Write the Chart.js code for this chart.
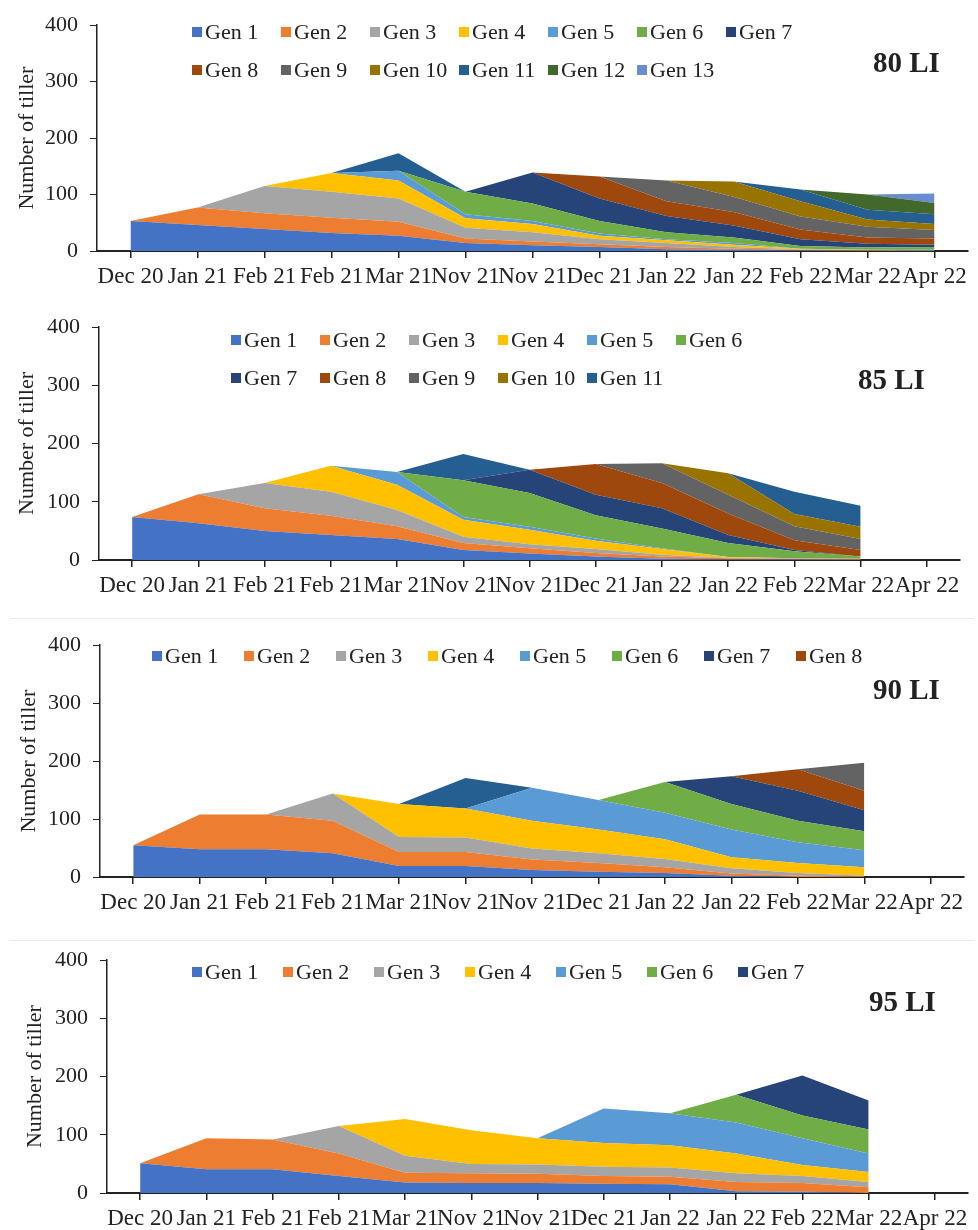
<!DOCTYPE html>
<html>
<head>
<meta charset="utf-8">
<script src="https://cdn.jsdelivr.net/npm/chart.js@4.4.1/dist/chart.umd.min.js"></script>
<style>
  body {
    margin: 0;
    background: #fff;
    width: 978px;
    height: 1230px;
    position: relative;
    overflow: hidden;
    font-family: 'Liberation Serif', 'Times New Roman', serif;
    color: #222;
  }
  canvas { position: absolute; left: 0; }
  .sep { position: absolute; left: 10px; right: 4px; height: 1px; background: #ececec; }
  .legend { position: absolute; display: grid; font-size: 22px; line-height: 1; }
  .legend-item { display: flex; align-items: flex-start; white-space: nowrap; }
  .swatch { width: 10px; height: 10px; margin: 6px 3px 0 0; flex: none; }
  .tag { position: absolute; font-size: 29px; font-weight: bold; line-height: 1; }
</style>
</head>
<body>
<div class="sep" style="top: 618px"></div>
<div class="sep" style="top: 940px"></div>

<script>
const months = ['Dec 20', 'Jan 21', 'Feb 21', 'Feb 21', 'Mar 21', 'Nov 21', 'Nov 21',
  'Dec 21', 'Jan 22', 'Jan 22', 'Feb 22', 'Mar 22', 'Apr 22'];

const genColors = ['#4472C4', '#ED7D31', '#A5A5A5', '#FFC000', '#5B9BD5', '#70AD47',
  '#264478', '#9E480E', '#636363', '#997300', '#255E91', '#43682B', '#698ED0'];

// tillers per generation, one row per Gen
const li80 = [
  [53, 46, 39, 32, 27, 14, 10, 7, 3, 2, 1, 0, 0],
  [0, 31, 28, 27, 25, 8, 7, 5, 4, 2, 1, 1, 0],
  [0, 0, 48, 46, 41, 19, 16, 9, 7, 3, 1, 1, 1],
  [0, 0, 0, 33, 32, 17, 15, 6, 5, 4, 1, 0, 0],
  [0, 0, 0, 0, 17, 7, 5, 4, 2, 3, 0, 0, 1],
  [0, 0, 0, 0, 0, 40, 31, 22, 12, 10, 5, 4, 5],
  [0, 0, 0, 0, 0, 0, 55, 40, 29, 21, 12, 7, 4],
  [0, 0, 0, 0, 0, 0, 0, 39, 26, 24, 17, 11, 11],
  [0, 0, 0, 0, 0, 0, 0, 0, 37, 27, 23, 19, 15],
  [0, 0, 0, 0, 0, 0, 0, 0, 0, 27, 27, 13, 11],
  [0, 0, 0, 0, 31, 0, 0, 0, 0, 0, 21, 17, 17],
  [0, 0, 0, 0, 0, 0, 0, 0, 0, 0, 0, 27, 20],
  [0, 0, 0, 0, 0, 0, 0, 0, 0, 0, 0, 0, 17],
];

const li85 = [
  [74, 63, 50, 43, 36, 17, 11, 6, 2, 1, 1, 0],
  [0, 50, 39, 33, 22, 12, 9, 6, 4, 2, 1, 1],
  [0, 0, 43, 41, 28, 11, 7, 7, 3, 1, 1, 1],
  [0, 0, 0, 45, 43, 29, 25, 14, 10, 1, 0, 0],
  [0, 0, 0, 0, 22, 5, 5, 4, 1, 0, 0, 0],
  [0, 0, 0, 0, 0, 63, 58, 40, 34, 24, 12, 4],
  [0, 0, 0, 0, 0, 0, 40, 35, 35, 14, 2, 0],
  [0, 0, 0, 0, 0, 0, 0, 53, 43, 37, 17, 11],
  [0, 0, 0, 0, 0, 0, 0, 0, 34, 32, 24, 19],
  [0, 0, 0, 0, 0, 0, 0, 0, 0, 37, 21, 21],
  [0, 0, 0, 0, 0, 45, 0, 0, 0, 0, 38, 36],
];

const li90 = [
  [55, 48, 48, 41, 19, 19, 12, 9, 7, 2, 0, 0],
  [0, 60, 60, 56, 24, 24, 18, 15, 10, 4, 2, 1],
  [0, 0, 0, 47, 26, 25, 19, 17, 14, 9, 5, 1],
  [0, 0, 0, 0, 57, 50, 48, 41, 34, 19, 17, 15],
  [0, 0, 0, 0, 0, 0, 57, 51, 46, 48, 36, 29],
  [0, 0, 0, 0, 0, 0, 0, 0, 53, 44, 37, 33],
  [0, 0, 0, 0, 0, 0, 0, 0, 0, 48, 52, 36],
  [0, 0, 0, 0, 0, 0, 0, 0, 0, 0, 37, 34],
  [0, 0, 0, 0, 0, 0, 0, 0, 0, 0, 0, 48],
  [0, 0, 0, 0, 0, 0, 0, 0, 0, 0, 0, 0],
  [0, 0, 0, 0, 0, 53, 0, 0, 0, 0, 0, 0],
];

const li95 = [
  [51, 41, 41, 29, 18, 17, 17, 16, 15, 3, 2, 0],
  [0, 53, 51, 39, 17, 17, 16, 13, 13, 16, 15, 10],
  [0, 0, 0, 47, 29, 16, 16, 16, 16, 15, 12, 9],
  [0, 0, 0, 0, 63, 58, 45, 41, 38, 34, 19, 17],
  [0, 0, 0, 0, 0, 0, 0, 59, 55, 53, 46, 32],
  [0, 0, 0, 0, 0, 0, 0, 0, 0, 48, 39, 41],
  [0, 0, 0, 0, 0, 0, 0, 0, 0, 0, 69, 50],
];

const panelNames = ['80 LI', '85 LI', '90 LI', '95 LI'];
const legendCounts = [13, 11, 8, 7];
const yTicks = [0, 100, 200, 300, 400];

// layout of each panel on the page
const panels = [
  { series: li80, top: 0, height: 300, padTop: 18, xHeight: 49, yWidth: 97, padRight: 10, titlePad: 14,
    legend: { left: 192, top: 21, colW: 89, cols: 7, rowH: 38 }, tag: { left: 873, top: 48 } },
  { series: li85, top: 300, height: 310, padTop: 27, xHeight: 50, yWidth: 99, padRight: 18, titlePad: 14,
    legend: { left: 231, top: 329, colW: 89, cols: 6, rowH: 38 }, tag: { left: 858, top: 365 } },
  { series: li90, top: 620, height: 310, padTop: 23, xHeight: 53, yWidth: 100, padRight: 14, titlePad: 16,
    legend: { left: 152, top: 645, colW: 92, cols: 8, rowH: 38 }, tag: { left: 873, top: 675 } },
  { series: li95, top: 935, height: 295, padTop: 24, xHeight: 37, yWidth: 107, padRight: 10, titlePad: 22,
    legend: { left: 192, top: 961, colW: 91, cols: 7, rowH: 38 }, tag: { left: 869, top: 987 } },
];

const serif = "'Liberation Serif', 'Times New Roman', serif";
const ink = '#222';

function buildDatasets(series) {
  return series.map((values, i) => ({
    label: 'Gen ' + (i + 1),
    data: values,
    backgroundColor: genColors[i],
    borderWidth: 0,
    pointRadius: 0,
    pointHitRadius: 0,
    tension: 0,
    fill: i === 0 ? 'origin' : '-1',
  }));
}

function buildLegend(panel, count) {
  const box = document.createElement('div');
  box.className = 'legend';
  box.style.left = panel.legend.left + 'px';
  box.style.top = panel.legend.top + 'px';
  box.style.gridTemplateColumns = `repeat(${panel.legend.cols}, ${panel.legend.colW}px)`;
  box.style.gridAutoRows = panel.legend.rowH + 'px';
  for (let i = 0; i < count; i++) {
    const item = document.createElement('div');
    item.className = 'legend-item';
    item.innerHTML = `<span class="swatch" style="background:${genColors[i]}"></span><span>Gen ${i + 1}</span>`;
    box.appendChild(item);
  }
  document.body.appendChild(box);
}

function buildPanel(panel, idx) {
  const canvas = document.createElement('canvas');
  canvas.width = 978;
  canvas.height = panel.height;
  canvas.style.top = panel.top + 'px';
  document.body.appendChild(canvas);

  new Chart(canvas.getContext('2d'), {
    type: 'line',
    data: { labels: months, datasets: buildDatasets(panel.series) },
    options: {
      responsive: false,
      animation: false,
      devicePixelRatio: 1,
      layout: { padding: { top: panel.padTop, right: panel.padRight, left: 0, bottom: 0 } },
      plugins: { legend: { display: false }, tooltip: { enabled: false } },
      scales: {
        x: {
          offset: true,
          grid: { offset: false, drawOnChartArea: false, tickLength: 7, color: ink, lineWidth: 1.5 },
          border: { color: ink, width: 2 },
          ticks: {
            autoSkip: false, maxRotation: 0, minRotation: 0, padding: 5, color: ink,
            font: { family: serif, size: 23 },
          },
          afterFit: scale => { scale.height = panel.xHeight; },
        },
        y: {
          stacked: true,
          min: 0,
          max: 400,
          afterBuildTicks: scale => { scale.ticks = yTicks.map(v => ({ value: v })); },
          grid: { drawOnChartArea: false, tickLength: 7, color: ink },
          border: { color: ink, width: 1.5 },
          ticks: { padding: 12, color: ink, font: { family: serif, size: 22 } },
          title: {
            display: true, text: 'Number of tiller', color: ink,
            font: { family: serif, size: 22 }, padding: { top: panel.titlePad, bottom: 0 },
          },
          afterFit: scale => { scale.width = panel.yWidth; },
        },
      },
    },
  });

  buildLegend(panel, legendCounts[idx]);

  const tag = document.createElement('div');
  tag.className = 'tag';
  tag.style.left = panel.tag.left + 'px';
  tag.style.top = panel.tag.top + 'px';
  tag.textContent = panelNames[idx];
  document.body.appendChild(tag);
}

window.addEventListener('load', () => {
  panels.forEach(buildPanel);
});
</script>
</body>
</html>
